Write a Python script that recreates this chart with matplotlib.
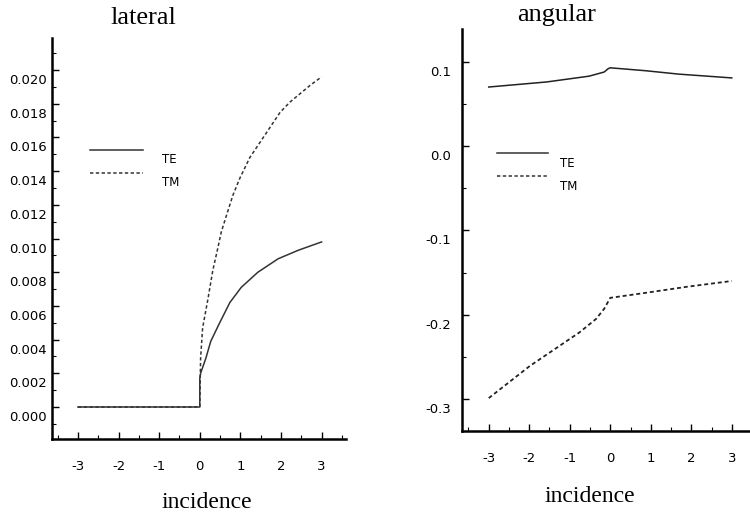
import matplotlib
matplotlib.use("Agg")
import matplotlib.pyplot as plt
from matplotlib.transforms import ScaledTranslation
from matplotlib.ticker import MultipleLocator
from matplotlib.lines import Line2D

# ---- data ----
lat_te_x = [-3.0, 0.0, 0.0, 0.02, 0.15, 0.27, 0.47, 0.74, 1.02, 1.43, 1.93, 2.42, 3.0]
lat_te_y = [0.0, 0.0, 0.0017, 0.0020, 0.0029, 0.0039, 0.0049, 0.0062, 0.0071,
            0.0080, 0.0088, 0.0093, 0.0098]
lat_tm_x = [-3.0, 0.0, 0.02, 0.07, 0.20, 0.32, 0.45, 0.53, 0.66, 0.82, 0.99, 1.23,
            1.48, 1.73, 1.98, 2.22, 2.47, 2.72, 3.0]
lat_tm_y = [0.0, 0.0, 0.0029, 0.0047, 0.0064, 0.0081, 0.0095, 0.0104, 0.0114,
            0.0126, 0.0136, 0.0148, 0.0157, 0.0166, 0.0175, 0.0181, 0.0186,
            0.0191, 0.0196]

ang_te_x = [-3.0, -1.57, -0.52, -0.15, -0.05, 0.0, 0.88, 1.69, 3.0]
ang_te_y = [0.0702, 0.0762, 0.0831, 0.088, 0.092, 0.093, 0.0895, 0.0855, 0.081]
ang_tm_x = [-3.0, -1.99, -0.76, -0.35, -0.15, 0.0, 0.88, 1.87, 3.0]
ang_tm_y = [-0.299, -0.261, -0.221, -0.205, -0.193, -0.180, -0.174, -0.167, -0.160]

lat_yticks = [0.000, 0.002, 0.004, 0.006, 0.008, 0.010, 0.012, 0.014, 0.016, 0.018, 0.020]
ang_yticks = [-0.3, -0.2, -0.1, 0.0, 0.1]
xticks = [-3, -2, -1, 0, 1, 2, 3]
series_names = ["TE", "TM"]

fig = plt.figure(figsize=(7.5, 5.14), dpi=100)
ax1 = fig.add_axes([0.0693, 0.1459, 0.392, 0.780])
ax2 = fig.add_axes([0.616, 0.1615, 0.384, 0.782])

dash = (0, (2.2, 1.6))
lw = 1.1
tick_font = dict(family="DejaVu Sans", size=9.5)

def style(ax, yticks, ylim, xlim, ypad, minor_y, fmt):
    for s in ["top", "right"]:
        ax.spines[s].set_visible(False)
    for s in ["left", "bottom"]:
        ax.spines[s].set_linewidth(1.8)
    ax.set_xlim(*xlim)
    ax.set_ylim(*ylim)
    ax.set_xticks(xticks)
    ax.set_xticklabels([str(v) for v in xticks], fontdict=tick_font)
    ax.xaxis.set_minor_locator(MultipleLocator(0.5))
    ax.set_yticks(yticks)
    ax.set_yticklabels([fmt.format(v) for v in yticks], fontdict=tick_font)
    ax.yaxis.set_minor_locator(MultipleLocator(minor_y))
    ax.tick_params(which="major", direction="in", length=5, width=1.0)
    ax.tick_params(which="minor", direction="in", length=3, width=0.8)
    ax.tick_params(axis="x", which="major", pad=15)
    ax.tick_params(axis="y", which="major", pad=ypad)
    off = ScaledTranslation(0, -9 / 100, fig.dpi_scale_trans)
    for lab in ax.get_yticklabels():
        lab.set_transform(lab.get_transform() + off)

style(ax1, lat_yticks, (-0.0019, 0.0219), (-3.64, 3.6), 3.5, 0.001, "{:.3f}")
style(ax2, ang_yticks, (-0.338, 0.139), (-3.66, 3.45), 8, 0.05, "{:.1f}")

ax1.plot(lat_te_x, lat_te_y, color="#333333", lw=lw)
ax1.plot(lat_tm_x, lat_tm_y, color="#333333", lw=lw, linestyle=dash)
ax2.plot(ang_te_x, ang_te_y, color="#222222", lw=lw)
ax2.plot(ang_tm_x, ang_tm_y, color="#222222", lw=lw + 0.2, linestyle=dash)

def legend(ax, x0, x1, ys, tx, tys):
    styles = ["-", dash]
    for name, st, y, ty in zip(series_names, styles, ys, tys):
        ax.add_line(Line2D([x0, x1], [y, y], transform=ax.transAxes,
                           color="#333333", lw=1.1, linestyle=st))
        ax.text(tx, ty, name, transform=ax.transAxes, family="DejaVu Sans",
                fontsize=8.5, va="center", ha="left")

# legend positions in axes fraction (from pixel reads)
legend(ax1, (90 - 52) / 294, (143 - 52) / 294,
       [(439 - 150) / 401, (439 - 173) / 401],
       (162 - 52) / 294, [(439 - 159) / 401, (439 - 182) / 401])
legend(ax2, (497 - 462) / 288, (548 - 462) / 288,
       [(431 - 153) / 402, (431 - 176) / 402],
       (560 - 462) / 288, [(431 - 163) / 402, (431 - 186) / 402])

serif = ["Liberation Serif", "DejaVu Serif"]
fig.text(143 / 750, 1 - 18 / 514, "lateral", family=serif, fontsize=19,
         ha="center", va="center")
fig.text(557 / 750, 1 - 15 / 514, "angular", family=serif, fontsize=19,
         ha="center", va="center")
fig.text(207 / 750, 1 - 502 / 514, "incidence", family=serif, fontsize=17,
         ha="center", va="center")
fig.text(590 / 750, 1 - 496 / 514, "incidence", family=serif, fontsize=17,
         ha="center", va="center")

fig.savefig("out.png", dpi=100)
